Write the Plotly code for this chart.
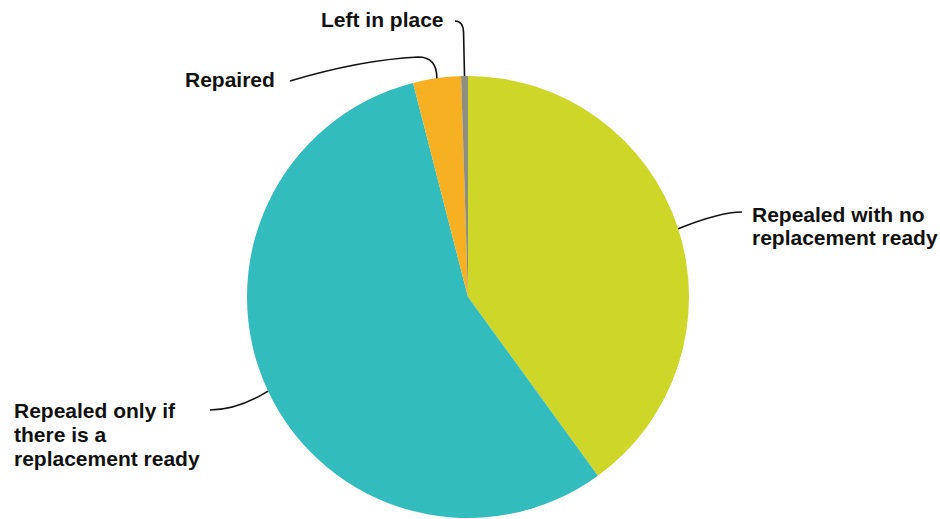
import numpy as np
import plotly.graph_objects as go

# Survey answers and their shares (percent)
categories = [
    "Repealed with no replacement ready",
    "Repealed only if there is a replacement ready",
    "Repaired",
    "Left in place",
]
shares = [40.0, 56.0, 3.5, 0.5]
colors = ["#CED628", "#33BCBE", "#F6B021", "#8E8E80"]

# Label text, one entry per printed line
label_lines = [
    ["Repealed with no", "replacement ready"],
    ["Repealed only if", "there is a", "replacement ready"],
    ["Repaired"],
    ["Left in place"],
]

W, H = 940, 519
CX, CY, R = 468, 297, 221  # pie centre and radius in pixels
LINE_GAP = 24               # pixel distance between label lines


def px(x, y):
    """Pixel position -> paper coordinates."""
    return x / W, 1 - y / H


fig = go.Figure(
    go.Pie(
        labels=categories,
        values=shares,
        sort=False,
        direction="clockwise",
        rotation=0,
        marker=dict(colors=colors, line=dict(width=0)),
        textinfo="none",
        hoverinfo="label+percent",
        domain=dict(x=[(CX - R) / W, (CX + R) / W], y=[1 - (CY + R) / H, 1 - (CY - R) / H]),
    )
)

# Slice mid-angles (clockwise from 12 o'clock) give the leader-line anchors
vals = np.array(shares)
ends = np.cumsum(vals) / vals.sum() * 360
starts = ends - vals / vals.sum() * 360
mids = np.radians((starts + ends) / 2)
anchors = [(CX + R * np.sin(a), CY - R * np.cos(a)) for a in mids]


def path(points_cmds):
    out = []
    for cmd, pts in points_cmds:
        coords = " ".join(f"{px(x, y)[0]:.5f},{px(x, y)[1]:.5f}" for x, y in pts)
        out.append(f"{cmd} {coords}")
    return " ".join(out)


(ax0, ay0), (ax1, ay1), (ax2, ay2), (ax3, ay3) = anchors
leaders = [
    path([("M", [(ax0, ay0)]), ("Q", [(720, 212), (742, 212)])]),
    path([("M", [(ax1, ay1)]), ("Q", [(238, 410), (210, 410)])]),
    path([("M", [(ax2, ay2)]), ("Q", [(ax2, 57), (418, 57)]), ("Q", [(360, 60), (290, 81)])]),
    path([("M", [(ax3, ay3)]), ("L", [(ax3 - 1, 32)]), ("Q", [(ax3 - 1.5, 21), (455, 21)])]),
]
for d in leaders:
    fig.add_shape(type="path", path=d, xref="paper", yref="paper",
                  line=dict(color="#111111", width=1.6))

font = dict(family="Liberation Sans", size=21, color="#111111")
# (x, first-line centre y, anchor) for each label block
label_pos = [(750, 214, "left"), (12, 410, "left"), (277, 80, "right"), (446, 19, "right")]
for lines, (x, y0, anchor) in zip(label_lines, label_pos):
    for i, line in enumerate(lines):
        xp, yp = px(x, y0 + i * LINE_GAP)
        fig.add_annotation(text=f"<b>{line}</b>", x=xp, y=yp, xref="paper", yref="paper",
                           xanchor=anchor, yanchor="middle", showarrow=False, font=font)

fig.update_layout(
    width=W, height=H,
    margin=dict(l=0, r=0, t=0, b=0),
    paper_bgcolor="white", plot_bgcolor="white",
    showlegend=False,
)

fig.write_html("out.html")
